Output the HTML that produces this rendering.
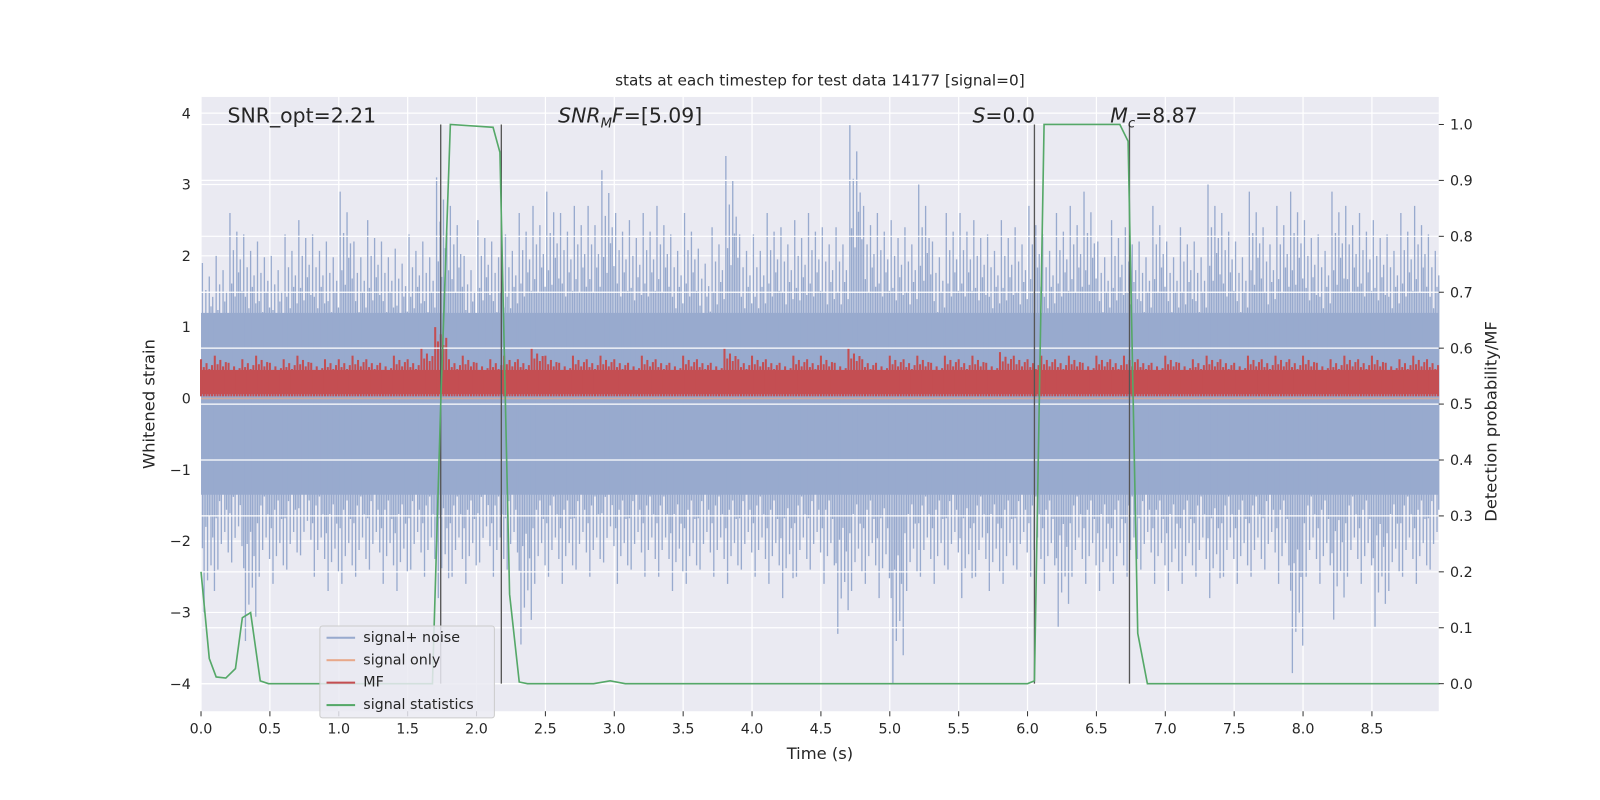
<!DOCTYPE html>
<html><head><meta charset="utf-8"><style>
html,body{margin:0;padding:0;background:#fff;width:1600px;height:800px;overflow:hidden;}
svg{display:block;font-family:"DejaVu Sans","Liberation Sans",sans-serif;}
#wrap{position:absolute;left:0;top:0;width:1568px;height:784px;transform:scale(1.0204);transform-origin:0 0;overflow:hidden}
</style></head><body>
<div id="wrap">
<svg id="chart" width="1568" height="784" viewBox="0 0 1568 784" style="position:absolute;left:0;top:0"></svg>
<div style="position:absolute;left:0;top:0;width:1568px;height:784px;font-family:'DejaVu Sans','Liberation Sans',sans-serif;color:#262626;pointer-events:none">
<div style="position:absolute;left:0;width:1568px;top:70px;text-align:center;font-size:15px;padding-left:39px;box-sizing:border-box">stats at each timestep for test data 14177 [signal=0]</div>
<div style="position:absolute;left:0;width:1568px;top:729px;text-align:center;font-size:16px;padding-left:39px;box-sizing:border-box">Time (s)</div>
<div style="position:absolute;left:146px;top:396px;font-size:16px;transform:translate(-50%,-50%) rotate(-90deg);white-space:nowrap">Whitened strain</div>
<div style="position:absolute;left:1461px;top:413px;font-size:16px;transform:translate(-50%,-50%) rotate(-90deg);white-space:nowrap">Detection probability/MF</div>
<div style="position:absolute;left:223px;top:101px;font-size:20px">SNR_opt=2.21</div>
<div style="position:absolute;left:547px;top:101px;font-size:20px"><i>SNR</i><sub style="font-size:13px"><i>M</i></sub><i>F</i>=[5.09]</div>
<div style="position:absolute;left:953px;top:101px;font-size:20px"><i>S</i>=0.0</div>
<div style="position:absolute;left:1088px;top:101px;font-size:20px"><i>M</i><sub style="font-size:13px"><i>c</i></sub>=8.87</div>
<div style="position:absolute;left:313px;top:613px;width:170px;height:89px;background:rgba(234,234,242,0.85);border:1px solid #ccc;border-radius:3px;font-size:14px">
<div style="position:absolute;left:6px;top:3px;white-space:nowrap"><span style="display:inline-block;width:28px;height:2px;background:#98AACE;vertical-align:middle;margin-right:8px"></span>signal+ noise</div>
<div style="position:absolute;left:6px;top:25px;white-space:nowrap"><span style="display:inline-block;width:28px;height:2px;background:#E8A88A;vertical-align:middle;margin-right:8px"></span>signal only</div>
<div style="position:absolute;left:6px;top:47px;white-space:nowrap"><span style="display:inline-block;width:28px;height:2px;background:#C44E52;vertical-align:middle;margin-right:8px"></span>MF</div>
<div style="position:absolute;left:6px;top:69px;white-space:nowrap"><span style="display:inline-block;width:28px;height:2px;background:#55A868;vertical-align:middle;margin-right:8px"></span>signal statistics</div>
</div>
</div>
</div>
<script>
const tickTimes=[0,0.5,1,1.5,2,2.5,3,3.5,4,4.5,5,5.5,6,6.5,7,7.5,8,8.5];
const leftTicks=[-4,-3,-2,-1,0,1,2,3,4];
const rightTicks=[0,0.1,0.2,0.3,0.4,0.5,0.6,0.7,0.8,0.9,1.0];
const noiseUp=[1.9,2.0,2.6,2.3,2.2,2.0,2.3,2.5,2.3,2.2,2.9,2.2,2.5,2.2,2.1,2.3,2.2,3.1,2.7,2.0,2.5,2.2,2.3,2.6,2.7,2.9,2.6,2.7,2.7,3.2,2.6,2.5,2.6,2.7,2.3,2.6,2.1,2.4,3.4,2.3,2.3,2.6,2.4,2.5,2.6,2.4,2.4,3.85,2.7,2.6,2.5,2.4,3.0,2.2,2.6,2.6,2.5,2.3,2.5,2.4,2.7,2.3,2.6,2.7,2.9,2.2,2.5,2.4,2.2,2.7,2.2,2.4,2.2,3.0,2.6,2.2,2.9,2.4,2.7,2.9,2.5,2.3,2.9,2.7,2.6,2.5,2.3,2.6,2.7,2.3];
const noiseDown=[-3.0,-2.4,-2.3,-3.4,-2.5,-2.6,-2.4,-2.2,-2.5,-2.7,-2.6,-2.5,-2.4,-2.6,-2.7,-2.4,-2.5,-2.8,-2.5,-2.6,-2.3,-2.5,-2.4,-3.45,-2.6,-2.5,-2.6,-2.4,-2.5,-2.3,-2.6,-2.4,-2.5,-2.5,-2.7,-2.6,-2.4,-2.5,-2.6,-2.4,-2.5,-2.6,-2.8,-2.5,-2.4,-2.6,-3.3,-2.7,-2.6,-2.8,-4.0,-2.7,-2.5,-2.6,-2.4,-2.8,-2.5,-2.7,-2.6,-2.4,-2.5,-2.6,-3.2,-2.5,-2.6,-2.7,-2.6,-2.5,-2.4,-2.6,-2.7,-2.6,-2.5,-2.8,-2.5,-2.6,-2.5,-2.4,-2.6,-3.85,-2.5,-2.6,-3.1,-2.5,-2.6,-3.2,-2.7,-2.5,-2.6,-2.4];
const mfPeak=[0.55,0.6,0.5,0.55,0.6,0.5,0.55,0.6,0.5,0.55,0.55,0.6,0.55,0.5,0.6,0.55,0.7,1.0,0.55,0.6,0.5,0.55,0.6,0.55,0.7,0.6,0.5,0.6,0.55,0.6,0.55,0.5,0.6,0.55,0.5,0.6,0.55,0.5,0.7,0.55,0.6,0.55,0.5,0.6,0.55,0.6,0.5,0.7,0.55,0.5,0.6,0.55,0.6,0.5,0.6,0.55,0.6,0.5,0.65,0.6,0.55,0.6,0.55,0.6,0.5,0.6,0.55,0.6,0.55,0.5,0.6,0.5,0.55,0.6,0.55,0.5,0.6,0.55,0.6,0.55,0.6,0.5,0.55,0.6,0.55,0.6,0.5,0.55,0.6,0.55];
const statT=[0,0.06,0.11,0.18,0.25,0.3,0.36,0.43,0.49,1.68,1.74,1.81,2.12,2.17,2.24,2.31,2.37,2.85,2.97,3.08,6.0,6.05,6.12,6.67,6.73,6.8,6.87,8.99];
const statV=[0.2,0.045,0.012,0.01,0.027,0.118,0.127,0.005,0,0,0.5,1.0,0.995,0.95,0.16,0.003,0,0,0.005,0,0,0.005,1.0,1.0,0.97,0.09,0,0];
const eventTimes=[1.74,2.18,6.05,6.74];

const svg=document.getElementById('chart');
const NS='http://www.w3.org/2000/svg';
const L=197,R=1410,T=95,B=697;
const xs=t=>L+t*135;
const yl=v=>390.5-v*69.9;
const yr=v=>670-v*548;
function mk(tag,attrs,parent){const e=document.createElementNS(NS,tag);for(const k in attrs)e.setAttribute(k,attrs[k]);(parent||svg).appendChild(e);return e;}

const pa=mk('rect',{x:L,y:T,width:R-L,height:B-T,fill:'#EAEAF2'});


const g1=mk('g',{});


tickTimes.forEach(t=>mk('line',{x1:xs(t),x2:xs(t),y1:T,y2:B,stroke:'#fff','stroke-width':1.2},g1));
leftTicks.forEach(v=>mk('line',{x1:L,x2:R,y1:yl(v),y2:yl(v),stroke:'#fff','stroke-width':1.2},g1));

const gn=mk('g',{});


mk('rect',{x:L,y:yl(1.2),width:R-L,height:yl(-1.35)-yl(1.2),fill:'#98AACE'},gn);
const fu=[1,0.62,0.8,0.55,0.9,0.68,0.75,0.58];
const fd=[0.7,1,0.6,0.85,0.55,0.78,0.65,0.9];
noiseUp.forEach((v,i)=>{
  for(let k=0;k<8;k++){
    const tt=i*0.1+0.01+k*0.0125;
    if(tt>8.99)continue;
    mk('line',{x1:xs(tt),x2:xs(tt),y1:yl(v*fu[k]),y2:yl(noiseDown[i]*fd[k]),stroke:'#98AACE','stroke-width':1.3},gn);
  }
});
const so=mk('line',{x1:L,x2:R,y1:yl(0),y2:yl(0),stroke:'#E8A88A','stroke-width':1.5,opacity:0.7});


const gm=mk('g',{});


mk('rect',{x:L,y:yl(0.4),width:R-L,height:yl(0.06)-yl(0.4),fill:'#C44E52'},gm);
const fm=[1,0.8,0.9,0.75,0.85];
mfPeak.forEach((v,i)=>{
  for(let k=0;k<5;k++){
    const tt=i*0.1+k*0.02;
    if(tt>8.99)continue;
    mk('line',{x1:xs(tt),x2:xs(tt),y1:yl(v*fm[k]),y2:yl(0.03),stroke:'#C44E52','stroke-width':2},gm);
  }
});
const g2=mk('g',{});


rightTicks.forEach(v=>mk('line',{x1:L,x2:R,y1:yr(v),y2:yr(v),stroke:'#fff','stroke-width':1.2},g2));
eventTimes.forEach(t=>{const l=mk('line',{x1:xs(t),x2:xs(t),y1:yr(1.0),y2:yr(0),stroke:'#555','stroke-width':1.3});

});
const pts=statT.map((t,i)=>xs(t)+','+yr(statV[i])).join(' ');
const pl=mk('polyline',{points:pts,fill:'none',stroke:'#55A868','stroke-width':1.6});



tickTimes.forEach(t=>{mk('line',{x1:xs(t),x2:xs(t),y1:B,y2:B+5,stroke:'#333'});
const tx=mk('text',{x:xs(t),y:B+22,'font-size':14,'text-anchor':'middle',fill:'#262626'});tx.textContent=t.toFixed(1);

});
leftTicks.forEach(v=>{const tx=mk('text',{x:L-10,y:yl(v)+5,'font-size':14,'text-anchor':'end',fill:'#262626'});tx.textContent=(v<0?'\u2212'+(-v):v);

});
rightTicks.forEach(v=>{mk('line',{x1:R,x2:R+5,y1:yr(v),y2:yr(v),stroke:'#333'});
const tx=mk('text',{x:R+11,y:yr(v)+5,'font-size':14,fill:'#262626'});tx.textContent=v.toFixed(1);

});
</script>
</body></html>
